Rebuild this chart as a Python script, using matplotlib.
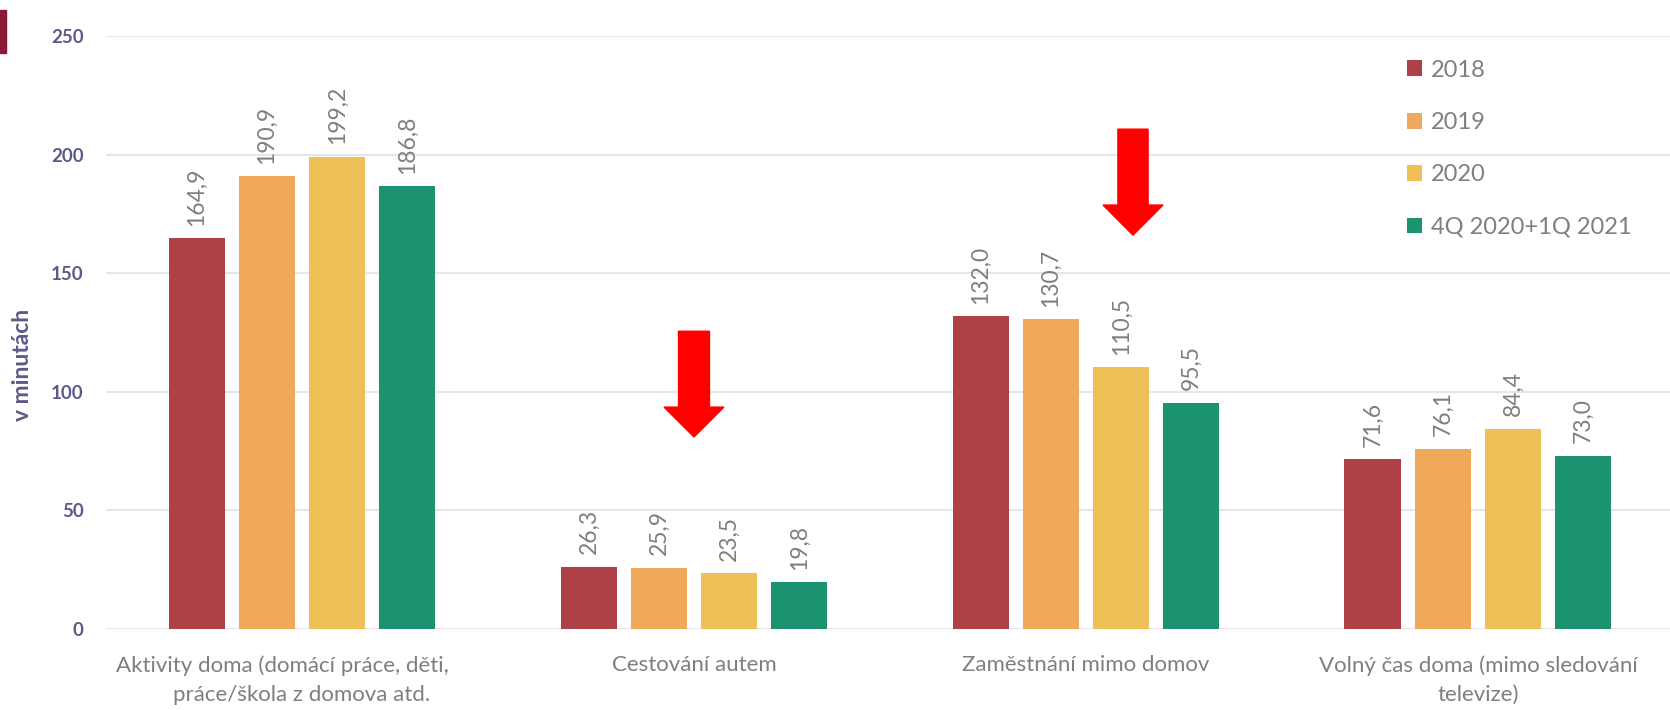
import matplotlib.pyplot as plt
import numpy as np
from matplotlib.patches import FancyArrow, Rectangle

# data (minutes per day)
categories = ['Aktivity doma (domácí práce, děti,       \npráce/škola z domova atd.',
              'Cestování autem',
              'Zaměstnání mimo domov',
              'Volný čas doma (mimo sledování\ntelevize)']
series = ['2018', '2019', '2020', '4Q 2020+1Q 2021']
v2018 = [164.9, 26.3, 132.0, 71.6]
v2019 = [190.9, 25.9, 130.7, 76.1]
v2020 = [199.2, 23.5, 110.5, 84.4]
vq = [186.8, 19.8, 95.5, 73.0]
values = [v2018, v2019, v2020, vq]
colors = ['#AE4048', '#F0A85B', '#EEC058', '#1C9270']

plt.rcParams['font.family'] = ['Lato', 'DejaVu Sans']

fig = plt.figure(figsize=(16.7, 7.1), dpi=100)
ax = fig.add_axes([0.0635, 0.114, 0.9365, 0.835])

x = np.arange(len(categories))
step = 0.179
width = 0.144
for i, (name, vals) in enumerate(zip(series, values)):
    pos = x + (i - 1.5) * step
    bars = ax.bar(pos, vals, width, color=colors[i], label=name, zorder=3)
    for b, v in zip(bars, vals):
        ax.annotate(f'{v:.1f}'.replace('.', ','),
                    (b.get_x() + b.get_width() / 2, v),
                    xytext=(0, 9), textcoords='offset points',
                    rotation=90, ha='center', va='bottom',
                    fontsize=16.5, color='#7F7F7F')

ax.set_ylim(0, 250)
ax.set_xlim(-0.5, 3.49)
ax.set_yticks(range(0, 251, 50))
ax.grid(axis='y', color='#E6E6E6', linewidth=1.5, zorder=0)
for s in ax.spines.values():
    s.set_visible(False)
ax.tick_params(axis='both', length=0)
ax.tick_params(axis='y', pad=16, labelsize=13.5, labelcolor='#5B5B8A')
for t in ax.get_yticklabels():
    t.set_fontweight('bold')
ax.set_xticks(x)
ax.set_xticklabels(categories, fontsize=16, color='#7F7F7F', linespacing=1.55)
ax.tick_params(axis='x', pad=19)
ax.set_ylabel('v minutách', fontsize=16.5, fontweight='bold', color='#5B5B8A')
ax.yaxis.set_label_coords(-0.047, 0.445)

# red arrows
ax.add_patch(FancyArrow(1.0, 125.6, 0, -44.6, width=0.079, head_width=0.153,
                        head_length=12.6, length_includes_head=True,
                        color='#FF0000', zorder=4))
ax.add_patch(FancyArrow(2.12, 210.8, 0, -44.7, width=0.077, head_width=0.153,
                        head_length=12.7, length_includes_head=True,
                        color='#FF0000', zorder=4))

# small mark in the top-left corner
fig.patches.append(Rectangle((0, 1 - 53 / 710), 6 / 1670, 43 / 710,
                             transform=fig.transFigure, color='#8B1A3A'))

ax.legend(loc='upper left', bbox_to_anchor=(0.8425, 0.916),
          bbox_transform=fig.transFigure, frameon=False, fontsize=17,
          labelcolor='#7F7F7F', handlelength=0.65, handleheight=0.65,
          handletextpad=0.35, labelspacing=1.33, borderpad=0, borderaxespad=0)

plt.savefig('out.png')
